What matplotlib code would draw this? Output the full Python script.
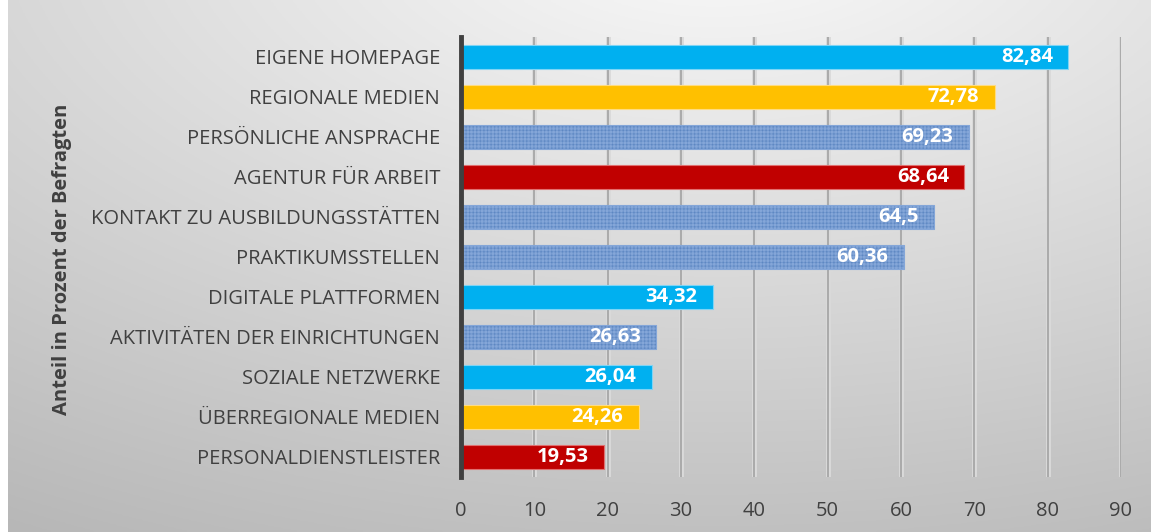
import numpy as np
import matplotlib
matplotlib.use("Agg")
from matplotlib import pyplot as plt

categories = ["EIGENE HOMEPAGE", "REGIONALE MEDIEN", "PERSÖNLICHE ANSPRACHE",
              "AGENTUR FÜR ARBEIT", "KONTAKT ZU AUSBILDUNGSSTÄTTEN", "PRAKTIKUMSSTELLEN",
              "DIGITALE PLATTFORMEN", "AKTIVITÄTEN DER EINRICHTUNGEN", "SOZIALE NETZWERKE",
              "ÜBERREGIONALE MEDIEN", "PERSONALDIENSTLEISTER"]
values = [82.84, 72.78, 69.23, 68.64, 64.5, 60.36, 34.32, 26.63, 26.04, 24.26, 19.53]
bar_kinds = ["cyan", "gold", "pattern", "red", "pattern", "pattern",
             "cyan", "pattern", "cyan", "gold", "red"]
x_ticks = [0, 10, 20, 30, 40, 50, 60, 70, 80, 90]

kind_colors = {"cyan": "#00B0F0", "gold": "#FFC000", "pattern": "#4A78B8", "red": "#C00000"}
edge_colors = {"cyan": "#7fd4f5", "gold": "#ffdc80", "pattern": "#84a6d8", "red": "#e07070"}

plt.rcParams["font.family"] = ["Open Sans", "DejaVu Sans"]
plt.rcParams["hatch.linewidth"] = 0.4

W, H = 1151, 532
fig = plt.figure(figsize=(W / 100, H / 100), dpi=100)
fig.patch.set_facecolor("white")

# gradient background
bg = fig.add_axes([8 / W, 0, 1 - 8 / W, 1])
gx, gy = np.meshgrid(np.linspace(0, 1, 400), np.linspace(0, 1, 200))
dist = np.sqrt(((gx - 0.62) * 1.1) ** 2 + (gy + 0.15) ** 2)
shade = 0.985 - 0.2 * dist
bg.imshow(np.dstack([shade] * 3).clip(0, 1), aspect="auto", extent=[0, 1, 1, 0])
bg.set_axis_off()

ax = fig.add_axes([461 / W, 1 - 477 / H, 660 / W, 440 / H])
ax.set_facecolor("none")

y = np.arange(len(categories))
for i in range(len(categories)):
    kind = bar_kinds[i]
    ax.barh(y[i], values[i], height=0.6, color=kind_colors[kind],
            edgecolor=edge_colors[kind], linewidth=0.8, zorder=3,
            hatch="+" * 12 if kind == "pattern" else None)
    label = f"{values[i]:g}".replace(".", ",")
    ax.text(values[i] - 2.1, y[i], label, ha="right", va="center", color="white",
            fontsize=14.5, fontweight="bold", zorder=4)

ax.set_xlim(0, 90)
ax.set_ylim(len(categories) - 0.5, -0.5)
ax.set_xticks(x_ticks)
ax.set_yticks(y)
ax.set_yticklabels(categories)
ax.tick_params(axis="both", length=0, colors="#404040", labelsize=14.5)
ax.tick_params(axis="y", pad=15)
ax.tick_params(axis="x", pad=17)

for xt in x_ticks[1:]:
    ax.axvline(xt, color="#dadada", lw=3.5, zorder=1)
    ax.axvline(xt, color="#a6a6a6", lw=1.3, zorder=2)

for s in ["top", "right", "bottom"]:
    ax.spines[s].set_visible(False)
ax.spines["left"].set_color("#404040")
ax.spines["left"].set_linewidth(3.5)
ax.spines["left"].set_zorder(5)

fig.text(62 / W, 1 - 259 / H, "Anteil in Prozent der Befragten", rotation=90,
         ha="center", va="center", fontsize=14.5, fontweight="bold", color="#404040")

fig.savefig("out.png", dpi=100)
